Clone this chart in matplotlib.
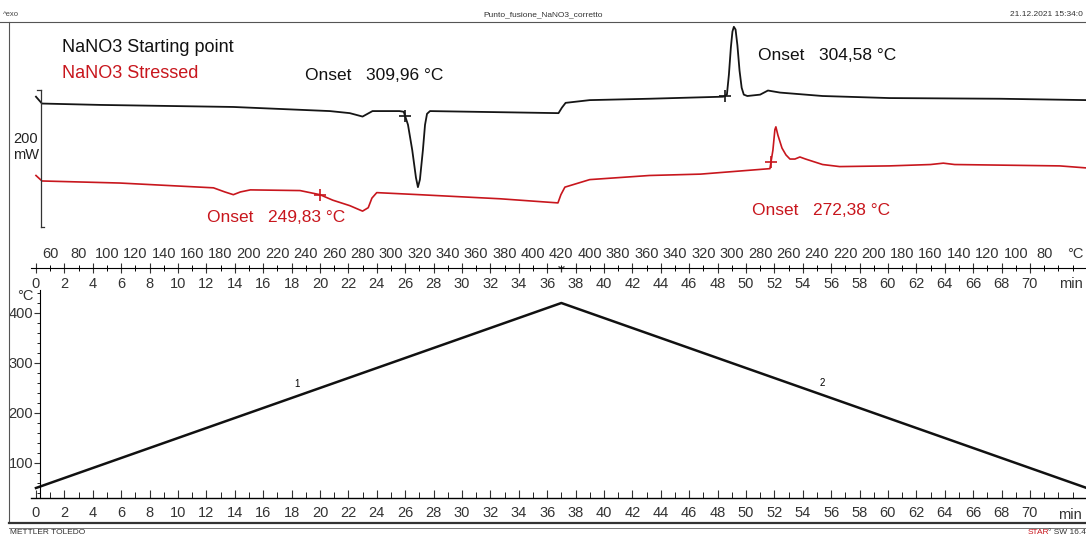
import numpy as np
import matplotlib
matplotlib.use("Agg")
import matplotlib.pyplot as plt
from matplotlib.lines import Line2D
from matplotlib.ticker import MultipleLocator
import matplotlib.transforms as mtransforms

plt.rcParams['font.family'] = ['Liberation Sans', 'DejaVu Sans']

# --- DSC curves (time in min, heat flow in mW, arbitrary offset) ---
t_start = [0.0, 0.42, 4.5, 13.9, 20.7, 22.1, 23.0, 23.7, 25.6, 25.9, 26.2, 26.5,
           26.76, 26.9, 27.04, 27.25, 27.4, 27.54, 27.75, 36.8, 37.04, 37.3, 39.0,
           43.2, 48.4, 48.66, 48.8, 48.94, 49.05, 49.15, 49.27, 49.4, 49.55, 49.7,
           49.85, 50.1, 51.0, 51.55, 52.4, 55.4, 60.1, 67.9, 74.0]
mw_start = [190, 180, 178, 175, 169, 166, 161, 169, 169, 168, 149, 112,
            72, 58, 69, 112, 149, 165, 169, 166, 174, 181, 185,
            187, 190, 193, 222, 262, 285, 292, 288, 265, 228, 203,
            193, 191, 193, 199, 196, 191, 188, 187, 185]

t_stress = [0.0, 0.42, 5.9, 12.5, 13.3, 13.9, 14.4, 15.1, 18.6, 20.0, 20.9, 22.1,
            23.0, 23.4, 23.66, 24.0, 27.0, 32.7, 36.76, 36.97, 37.25, 39.0, 43.2,
            46.8, 51.69, 51.9, 52.04, 52.11, 52.25, 52.54, 52.82, 53.1, 53.45, 53.8,
            54.2, 55.4, 56.6, 60.1, 63.0, 63.9, 64.7, 72.1, 74.0]
mw_stress = [75, 67, 64, 57, 51, 47, 51, 54, 53, 47, 39, 31,
             23, 28, 42, 50, 47, 41, 35, 47, 58, 69, 75,
             77, 85, 112, 142, 146, 134, 115, 105, 99, 99, 102,
             99, 91, 88, 89, 91, 93, 91, 89, 86]

onset_start = [309.96, 304.58]    # heating, cooling
onset_stress = [249.83, 272.38]

# --- temperature program ---
prog_t = [0, 37, 74]
prog_T = [50, 420, 50]
rate = 10.0

RED = '#c8161d'
GREY = '#333333'
W, H = 1086, 536
fig = plt.figure(figsize=(W / 100, H / 100), dpi=100)


def fx(px):
    return px / W


def fy(py):
    return 1 - py / H


def t_of_T(T, heating=True):
    return (T - prog_T[0]) / rate if heating else prog_t[1] + (prog_T[1] - T) / rate


xlim = (-0.35, 73.95)
TICKFS = 10.5

# ---------------- top DSC panel ----------------
ax = fig.add_axes([fx(31), fy(268), fx(W - 31), (268 - 22) / H])
ax.set_xlim(*xlim)
ax.set_ylim(-60, 299)
for s in ['top', 'right', 'left']:
    ax.spines[s].set_visible(False)
ax.spines['bottom'].set_linewidth(0.8)
ax.set_yticks([])
ax.set_xticks(np.arange(0, 72, 2))
ax.xaxis.set_minor_locator(MultipleLocator(1))
ax.tick_params(axis='x', which='major', direction='inout', length=7, width=0.8,
               labelsize=TICKFS, pad=3, colors=GREY)
ax.tick_params(axis='x', which='minor', direction='inout', length=5, width=0.7)

ax.plot(t_start, mw_start, color='#151515', lw=1.3)
ax.plot(t_stress, mw_stress, color=RED, lw=1.2)

# onset marks
for T, heat in zip(onset_start, [True, False]):
    tt = t_of_T(T, heat)
    ax.plot(tt, np.interp(tt, t_start, mw_start), marker='+', ms=9, mew=1.2, color='#151515')
for T, heat in zip(onset_stress, [True, False]):
    tt = t_of_T(T, heat)
    ax.plot(tt, np.interp(tt, t_stress, mw_stress), marker='+', ms=9, mew=1.2, color=RED)

# scale bar 200 mW
ax.plot([0.35, 0.35], [0, 200], color=GREY, lw=0.9)
ax.plot([0.1, 0.35], [200, 200], color=GREY, lw=0.9)
ax.plot([0.35, 0.6], [0, 0], color=GREY, lw=0.9)
fig.text(fx(26), fy(147), '200\nmW', ha='center', va='center', fontsize=10.5,
         linespacing=1.1, color='#222222')

# temperature labels above the axis line
blend = mtransforms.blended_transform_factory(ax.transData, ax.transAxes)
up = blend + mtransforms.ScaledTranslation(0, 5 / 72, fig.dpi_scale_trans)
heat_T = list(range(60, 421, 20))
cool_T = list(range(400, 79, -20))
for T in heat_T:
    ax.text(t_of_T(T, True), 0.0, str(T), transform=up, ha='center', va='bottom',
            fontsize=TICKFS, color=GREY)
for T in cool_T:
    ax.text(t_of_T(T, False), 0.0, str(T), transform=up, ha='center', va='bottom',
            fontsize=TICKFS, color=GREY)
ax.text(73.2, 0.0, '°C', transform=up, ha='center', va='bottom', fontsize=TICKFS, color=GREY)
ax.text(72.9, -0.035, 'min', transform=blend, ha='center', va='top', fontsize=TICKFS, color=GREY)
# segment boundary mark
ax.plot(prog_t[1], 0.0, transform=blend, marker='1', ms=6, mew=0.9, color=GREY, clip_on=False)

# annotations
fig.text(fx(62), fy(47), 'NaNO3 Starting point', fontsize=13, va='center', color='#111111')
fig.text(fx(62), fy(73), 'NaNO3 Stressed', fontsize=13, va='center', color=RED)
fig.text(fx(305), fy(76), 'Onset   309,96 °C', fontsize=12.5, va='center', color='#111111')
fig.text(fx(758), fy(55), 'Onset   304,58 °C', fontsize=12.5, va='center', color='#111111')
fig.text(fx(207), fy(218), 'Onset   249,83 °C', fontsize=12.5, va='center', color=RED)
fig.text(fx(752), fy(210), 'Onset   272,38 °C', fontsize=12.5, va='center', color=RED)

# ---------------- bottom temperature program panel ----------------
bx = fig.add_axes([fx(31), fy(498), fx(W - 31), (498 - 290) / H])
bx.set_xlim(*xlim)
bx.set_ylim(30, 446)
for s in ['top', 'right']:
    bx.spines[s].set_visible(False)
bx.spines['left'].set_position(('data', 0.3))
bx.spines['left'].set_linewidth(0.8)
bx.spines['bottom'].set_linewidth(1.0)
bx.plot(prog_t, prog_T, color='#111111', lw=1.8, clip_on=False)
bx.set_xticks(np.arange(0, 72, 2))
bx.xaxis.set_minor_locator(MultipleLocator(1))
bx.set_yticks([100, 200, 300, 400])
bx.yaxis.set_minor_locator(MultipleLocator(20))
bx.tick_params(axis='x', which='major', direction='in', length=6, labelsize=TICKFS, pad=6,
               colors=GREY)
bx.tick_params(axis='x', which='minor', direction='in', length=4)
bx.tick_params(axis='y', which='major', direction='out', length=4, labelsize=TICKFS, pad=1,
               colors=GREY)
bx.tick_params(axis='y', which='minor', direction='out', length=2)
bx.text(72.8, -0.05, 'min', transform=mtransforms.blended_transform_factory(bx.transData, bx.transAxes),
        ha='center', va='top', fontsize=TICKFS, color=GREY)
for tt in [18.4, 55.35]:
    bx.annotate(str(1 if tt < prog_t[1] else 2), (tt, np.interp(tt, prog_t, prog_T)),
                xytext=(0, 5), textcoords='offset points', ha='center', va='bottom', fontsize=7)
fig.text(fx(25), fy(296), '°C', fontsize=TICKFS, ha='center', va='center', color=GREY)

# ---------------- frame / header / footer ----------------
fig.add_artist(Line2D([0, 1], [fy(22), fy(22)], color='#555555', lw=0.8))
fig.add_artist(Line2D([fx(9), fx(9)], [fy(22), fy(523)], color='#555555', lw=0.8))
fig.add_artist(Line2D([fx(9), 1], [fy(523), fy(523)], color=GREY, lw=1.6))
fig.add_artist(Line2D([fx(9), 1], [fy(527.5), fy(527.5)], color='#777777', lw=0.7))
fig.text(fx(3), fy(15), '^exo', fontsize=5.5, va='center', color='#444444')
fig.text(0.5, fy(15), 'Punto_fusione_NaNO3_corretto', fontsize=6, ha='center', va='center',
         color=GREY)
fig.text(fx(1010), fy(15), '21.12.2021 15:34:0', fontsize=6, va='center', color=GREY)
fig.text(fx(10), fy(532), 'METTLER TOLEDO', fontsize=6, va='center', color=GREY)
fig.text(fx(1028), fy(532), 'STAR', fontsize=6, va='center', color=RED)
fig.text(fx(1048), fy(532), '° SW 16.4', fontsize=6, va='center', color=GREY)

fig.savefig('out.png', dpi=100)
